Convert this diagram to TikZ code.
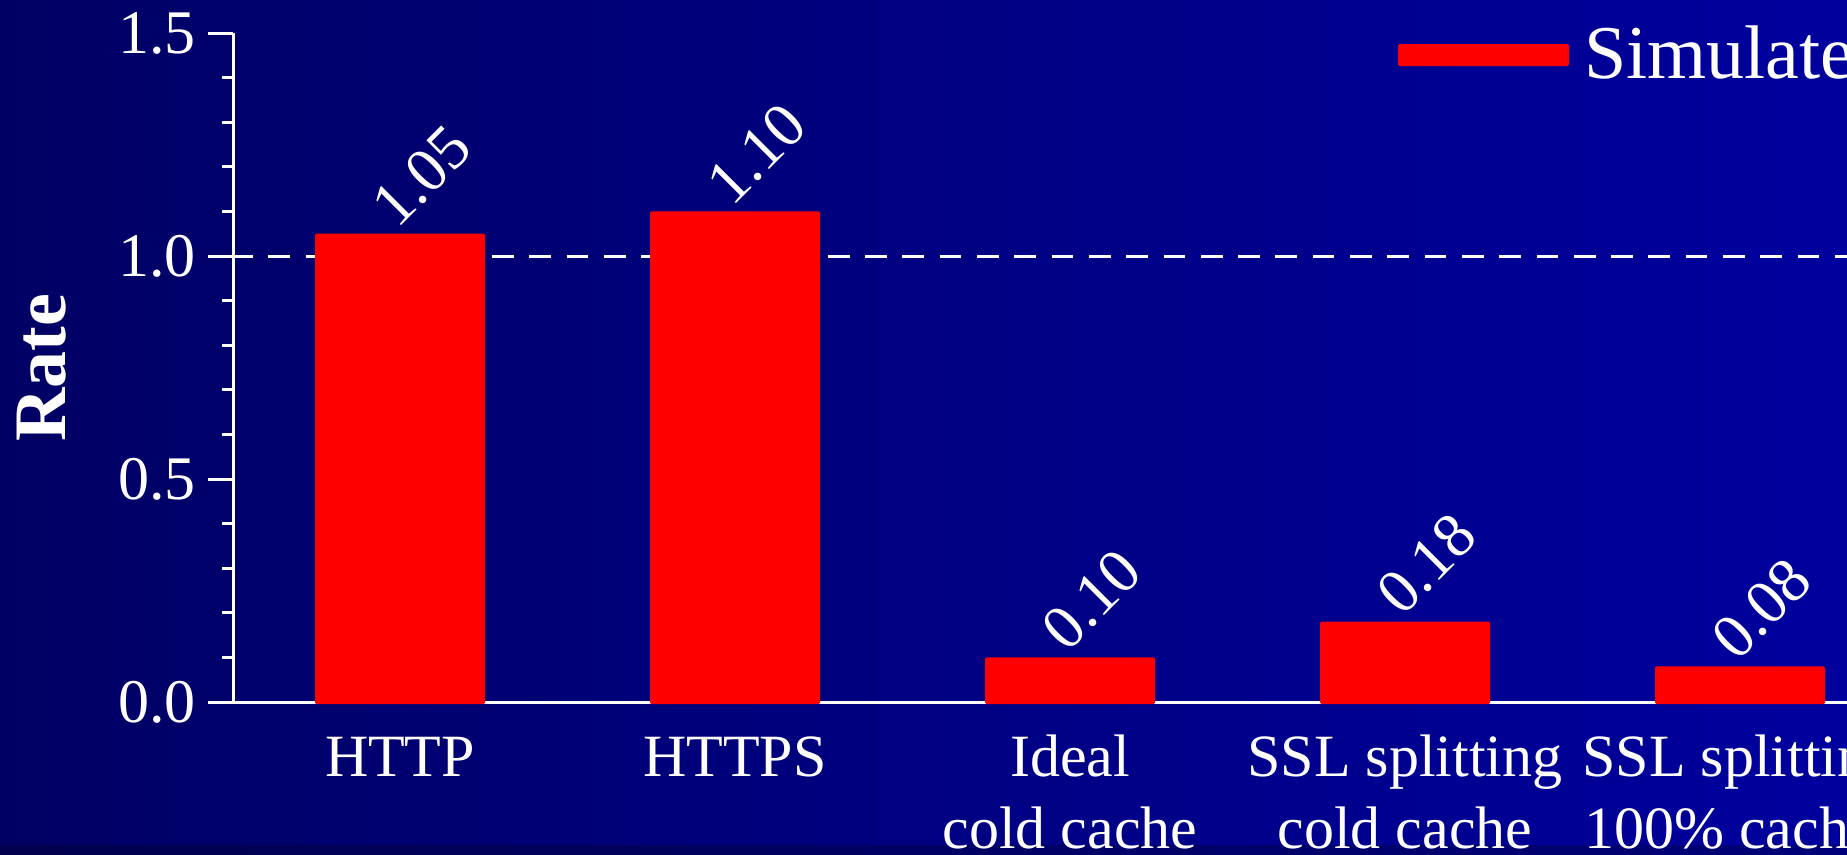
\documentclass[tikz,border=0pt]{standalone}
\usepackage{fontspec}
\setmainfont{Liberation Serif}
\definecolor{bgL}{RGB}{0,0,100}
\definecolor{bgR}{RGB}{0,0,158}
\definecolor{stripL}{RGB}{0,0,78}
\definecolor{stripR}{RGB}{0,0,120}
\definecolor{barred}{RGB}{255,0,0}
\tikzset{
  axisline/.style={white, line width=3pt},
  ticklabel/.style={text=white, anchor=east, inner sep=0pt, font=\fontsize{62}{70}\selectfont},
  catlabel/.style={text=white, anchor=base, inner sep=0pt, font=\fontsize{60}{70}\selectfont},
  vallabel/.style={text=white, anchor=base west, inner sep=0pt, rotate=45, font=\fontsize{63}{70}\selectfont},
  biglabel/.style={text=white, inner sep=0pt, font=\fontsize{76}{84}\selectfont},
  barbox/.style={fill=barred, rounded corners=1.5pt},
}
\begin{document}
\begin{tikzpicture}[x=1pt, y=-1pt]
  \useasboundingbox (0,0) rectangle (1847,854);
  \clip (0,0) rectangle (1847,854);
  % background
  \shade[left color=bgL, right color=bgR] (0,0) rectangle (1847,854);
  \shade[left color=stripL, right color=stripR] (0,845) rectangle (1847,854);

  % reference line at rate 1.0
  \draw[white, line width=3pt, dash pattern=on 21.7pt off 15.6pt] (231,256) -- (1847,256);

  % axes
  \draw[axisline] (233,32.5) -- (233,702) -- (1847,702);
  \foreach \v in {0,0.5,1,1.5}
    \draw[axisline] (208,{702-446*\v}) -- (233,{702-446*\v});
  \foreach \v in {0.1,0.2,0.3,0.4,0.6,0.7,0.8,0.9,1.1,1.2,1.3,1.4}
    \draw[axisline] (222,{702-446*\v}) -- (233,{702-446*\v});

  % tick labels
  \node[ticklabel] (t00) at (196,702) {0.0};
  \node[ticklabel] (t05) at (196,479) {0.5};
  \node[ticklabel] (t10) at (196,256) {1.0};
  \node[ticklabel] (t15) at (196,33) {1.5};

  % axis title
  \node[biglabel, font=\fontsize{74}{80}\selectfont\bfseries, rotate=90, anchor=base] (ytitle) at (65,367.5) {Rate};

  % bars and their values
  \foreach \name/\cx/\v/\t in {http/400/1.05/1.05, https/735/1.10/1.10, ideal/1070/0.10/0.10, sslcold/1405/0.18/0.18, sslcache/1740/0.08/0.08} {
    \fill[barbox] (\cx-85,704) rectangle (\cx+85,{702-446*\v});
    \node[vallabel] (val-\name) at (\cx-3,{702-446*\v-4}) {\t};
  }

  % category labels
  \node[catlabel] (c-http) at (400,776) {HTTP};
  \node[catlabel] (c-https) at (735,776) {HTTPS};
  \node[catlabel] (c-idealA) at (1070,776) {Ideal};
  \node[catlabel] (c-idealB) at (1070,848) {cold cache};
  \node[catlabel] (c-sslcoldA) at (1405,776) {SSL splitting};
  \node[catlabel] (c-sslcoldB) at (1405,848) {cold cache};
  \node[catlabel] (c-sslcacheA) at (1740,776) {SSL splitting};
  \node[catlabel, anchor=base west] (c-sslcacheB) at (1584,848) {100\% cache};

  % legend
  \fill[barbox] (1398,44) rectangle (1569,66);
  \node[biglabel, anchor=base west] (leg) at (1584,78) {Simulate};
\end{tikzpicture}
\end{document}
